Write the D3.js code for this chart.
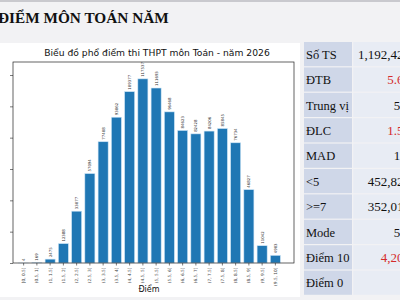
<!DOCTYPE html>
<html>
<head>
<meta charset="utf-8">
<script src="https://cdn.jsdelivr.net/npm/d3@7"></script>
<style>
  body { margin: 0; background: #f2f2f4; }
  svg { display: block; }
</style>
</head>
<body>
<div class="content"></div>
<script>
// phổ điểm - bins and counts
const bins = ["[0, 0.5]", "(0.5, 1]", "(1, 1.5]", "(1.5, 2]", "(2, 2.5]", "(2.5, 3]", "(3, 3.5]", "(3.5, 4]",
  "(4, 4.5]", "(4.5, 5]", "(5, 5.5]", "(5.5, 6]", "(6, 6.5]", "(6.5, 7]", "(7, 7.5]", "(7.5, 8]",
  "(8, 8.5]", "(8.5, 9]", "(9, 9.5]", "(9.5, 10]"];
const counts = [4, 169, 2475, 12388, 33077, 57094, 77408, 93062, 109377, 117537,
  111693, 96468, 84623, 82428, 84206, 85845, 76734, 46827, 11042, 4903];
const yTicks = [0, 20000, 40000, 60000, 80000, 100000, 120000];

// bảng thống kê
const statLabels = ["Số TS", "ĐTB", "Trung vị", "ĐLC", "MAD", "<5", ">=7", "Mode", "Điểm 10", "Điểm 0"];
const statValues = ["1,192,427", "5.63", "5.5", "1.55", "1.2", "452,821", "352,018", "5.0", "4,203", "4"];
const statRed = [false, true, false, true, false, false, false, false, true, false];

const W = 400, H = 300;
const svg = d3.select('.content').append('svg')
  .attr('width', W).attr('height', H);

// background
svg.append('rect').attr('width', W).attr('height', H).attr('fill', '#f2f2f4');
svg.append('rect').attr('width', W).attr('height', 2).attr('fill', '#c9c9ce');

// slide heading
svg.append('text')
  .attr('x', -2).attr('y', 23)
  .attr('font-family', 'Liberation Serif')
  .attr('font-weight', 'bold')
  .attr('font-size', 15.3)
  .attr('fill', '#111')
  .text('ĐIỂM MÔN TOÁN NĂM');

// chart card
svg.append('rect').attr('x', 0).attr('y', 43).attr('width', 300).attr('height', 254).attr('fill', '#fff');

const plot = { left: 13, right: 294, top: 62, bottom: 263 };

const x = d3.scaleBand()
  .domain(bins)
  .range([17, 282])
  .paddingInner(0.24)
  .paddingOuter(0.12);

const y = d3.scaleLinear()
  .domain([0, 120000])
  .range([plot.bottom, 75]);

svg.append('text')
  .attr('x', 157).attr('y', 56)
  .attr('text-anchor', 'middle')
  .attr('font-family', 'DejaVu Sans')
  .attr('font-size', 9.2)
  .attr('fill', '#111')
  .text('Biểu đồ phổ điểm thi THPT môn Toán - năm 2026');

// bars
svg.selectAll('.bar')
  .data(counts)
  .enter().append('rect')
  .attr('class', 'bar')
  .attr('x', (d, i) => x(bins[i]))
  .attr('y', d => y(d))
  .attr('width', x.bandwidth())
  .attr('height', d => y(0) - y(d))
  .attr('fill', '#1f77b4')
  .attr('stroke', '#cfe6f7')
  .attr('stroke-width', 0.6);

// value labels on bars
svg.selectAll('.val')
  .data(counts)
  .enter().append('text')
  .attr('class', 'val')
  .attr('transform', (d, i) => `translate(${x(bins[i]) + x.bandwidth() / 2 + 1.4},${y(d) - 2}) rotate(-90)`)
  .attr('font-family', 'DejaVu Sans')
  .attr('font-size', 3.9)
  .attr('fill', '#333')
  .text(d => d);

// frame
svg.append('rect')
  .attr('x', plot.left).attr('y', plot.top)
  .attr('width', plot.right - plot.left).attr('height', plot.bottom - plot.top)
  .attr('fill', 'none').attr('stroke', '#222').attr('stroke-width', 0.7);

// y axis ticks (labels are cropped off in the original)
svg.append('g')
  .attr('transform', `translate(${plot.left},0)`)
  .call(d3.axisLeft(y).tickValues(yTicks).tickSize(3).tickFormat(''))
  .call(g => g.select('.domain').remove())
  .call(g => g.selectAll('line').attr('stroke', '#222').attr('stroke-width', 0.6));

// x axis
svg.append('g')
  .attr('transform', `translate(0,${plot.bottom})`)
  .call(d3.axisBottom(x).tickSize(2.5))
  .call(g => g.select('.domain').remove())
  .call(g => g.selectAll('line').attr('stroke', '#222').attr('stroke-width', 0.6))
  .call(g => g.selectAll('text')
    .attr('font-family', 'DejaVu Sans')
    .attr('font-size', 4.3)
    .attr('fill', '#444')
    .attr('text-anchor', 'end')
    .attr('dy', '0.35em')
    .attr('transform', 'translate(0,4.5) rotate(-90)')
    .attr('y', 0).attr('x', 0));

svg.append('text')
  .attr('x', 149).attr('y', 292)
  .attr('text-anchor', 'middle')
  .attr('font-family', 'DejaVu Sans')
  .attr('font-size', 8)
  .attr('fill', '#111')
  .text('Điểm');

// stats table
const rowH = 25.4, tTop = 42;
const tbl = svg.append('g');
tbl.selectAll('.lab')
  .data(statLabels)
  .enter().append('rect')
  .attr('x', 304).attr('y', (d, i) => tTop + i * rowH)
  .attr('width', 48).attr('height', rowH - 1.2)
  .attr('fill', '#cfd7e8');
tbl.selectAll('.valbg')
  .data(statLabels)
  .enter().append('rect')
  .attr('x', 353.3).attr('y', (d, i) => tTop + i * rowH)
  .attr('width', 60).attr('height', rowH - 1.2)
  .attr('fill', '#e8ecf4');

tbl.selectAll('.labt')
  .data(statLabels)
  .enter().append('text')
  .attr('x', 306).attr('y', (d, i) => tTop + i * rowH + rowH / 2 + 4)
  .attr('font-family', 'Liberation Serif')
  .attr('font-size', 12.5)
  .attr('fill', '#111')
  .text(d => d);

tbl.selectAll('.valt')
  .data(statValues)
  .enter().append('text')
  .attr('x', 410).attr('y', (d, i) => tTop + i * rowH + rowH / 2 + 4)
  .attr('text-anchor', 'end')
  .attr('font-family', 'Liberation Serif')
  .attr('font-size', 13)
  .attr('fill', (d, i) => statRed[i] ? '#d42a2a' : '#111')
  .text(d => d);
</script>
</body>
</html>
